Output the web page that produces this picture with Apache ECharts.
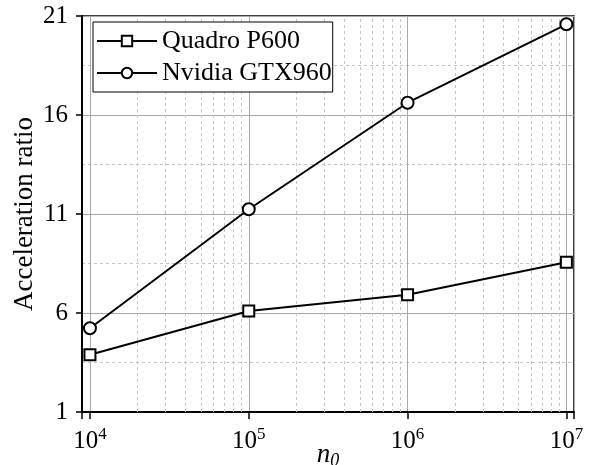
<!DOCTYPE html>
<html>
<head>
<meta charset="utf-8">
<script src="https://cdn.jsdelivr.net/npm/echarts@6/dist/echarts.min.js"></script>
<style>
  html, body { margin: 0; padding: 0; background: #fff; }
  #chart { width: 590px; height: 465px; }
</style>
</head>
<body>
<div id="chart"></div>
<script>
// Problem sizes (number of particles) on a log scale
var sizes = [1e4, 1e5, 1e6, 1e7];
// Acceleration ratio measured on each GPU
var quadroP600 = [3.89, 6.10, 6.92, 8.56];
var gtx960 = [5.23, 11.24, 16.62, 20.58];
var seriesNames = ['Quadro P600', 'Nvidia GTX960'];
// Y axis tick layout
var yMin = 1, yMax = 21, yStep = 5;

var FONT = '"Liberation Serif", "DejaVu Serif", serif';

// Dashed minor grid lines at 2..9 x 10^k
var minorX = [];
for (var k = 4; k < 7; k++) {
  for (var m = 2; m <= 9; m++) minorX.push({ xAxis: m * Math.pow(10, k) });
}

function pairs(vals) {
  return sizes.map(function (x, i) { return [x, vals[i]]; });
}

var chart = echarts.init(document.getElementById('chart'), null, { renderer: 'canvas' });

var lineStyle = { color: '#000', width: 2 };
var itemStyle = { color: '#fff', borderColor: '#000', borderWidth: 2 };

chart.setOption({
  animation: false,
  backgroundColor: '#fff',
  textStyle: { fontFamily: FONT },
  grid: {
    left: 82, right: 16, top: 16, bottom: 53,
    outerBoundsMode: 'none',
    containLabel: false,
    show: true, borderColor: '#000', borderWidth: 1.5, backgroundColor: 'transparent'
  },
  legend: {
    orient: 'vertical',
    left: 93, top: 22,
    padding: [6, 1, 6, 3],
    itemGap: 6,
    itemWidth: 60, itemHeight: 13,
    backgroundColor: '#fff',
    borderColor: '#000', borderWidth: 1,
    borderRadius: 0,
    textStyle: { fontFamily: FONT, fontSize: 26, color: '#000' },
    data: seriesNames
  },
  xAxis: {
    type: 'log',
    logBase: 10,
    min: Math.pow(10, 3.95),
    max: Math.pow(10, 7.048),
    name: '{n|n}{s|0}',
    nameLocation: 'middle',
    nameGap: 28,
    nameMoveOverlap: false,
    nameTextStyle: {
      rich: {
        n: { fontFamily: FONT, fontSize: 27, fontStyle: 'italic', color: '#000', lineHeight: 30 },
        s: { fontFamily: FONT, fontSize: 18, fontStyle: 'italic', color: '#000', lineHeight: 16, verticalAlign: 'bottom' }
      }
    },
    axisLine: { show: true, lineStyle: { color: '#000', width: 2 } },
    axisTick: { show: true, inside: false, length: 7, lineStyle: { color: '#000', width: 1.5 } },
    axisLabel: {
      margin: 14,
      showMinLabel: true, showMaxLabel: true,
      formatter: function (v) {
        var e = Math.round(Math.log10(v));
        if (Math.abs(v / Math.pow(10, e) - 1) > 1e-6) return '';
        return '{b|10}{s|' + e + '}';
      },
      rich: {
        b: { fontFamily: FONT, fontSize: 25, color: '#000', lineHeight: 30 },
        s: { fontFamily: FONT, fontSize: 17, color: '#000', lineHeight: 16, verticalAlign: 'top' }
      }
    },
    splitLine: { show: true, lineStyle: { color: '#a8a8a8', width: 1 } }
  },
  yAxis: {
    type: 'value',
    min: yMin, max: yMax, interval: yStep,
    name: 'Acceleration ratio',
    nameLocation: 'middle',
    nameGap: 44,
    nameMoveOverlap: false,
    nameTextStyle: { fontFamily: FONT, fontSize: 27, color: '#000' },
    axisLine: { show: true, lineStyle: { color: '#000', width: 2 } },
    axisTick: { show: true, inside: false, length: 6, lineStyle: { color: '#000', width: 1.5 } },
    axisLabel: { fontFamily: FONT, fontSize: 25, color: '#000', margin: 14 },
    splitLine: { show: true, lineStyle: { color: '#a8a8a8', width: 1 } },
    minorTick: { show: false, splitNumber: 2 },
    minorSplitLine: { show: true, lineStyle: { color: '#c4c4c4', width: 1, type: [3, 3] } }
  },
  series: [
    {
      name: seriesNames[0],
      type: 'line',
      data: pairs(quadroP600),
      symbol: 'rect',
      symbolSize: 11,
      lineStyle: lineStyle,
      itemStyle: itemStyle,
      z: 3,
      markLine: {
        silent: true,
        symbol: 'none',
        label: { show: false },
        lineStyle: { color: '#c4c4c4', width: 1, type: [3, 3] },
        emphasis: { disabled: true },
        data: minorX,
        z: 1
      }
    },
    {
      name: seriesNames[1],
      type: 'line',
      data: pairs(gtx960),
      symbol: 'circle',
      symbolSize: 12,
      lineStyle: lineStyle,
      itemStyle: itemStyle,
      z: 3
    }
  ]
});
</script>
</body>
</html>
